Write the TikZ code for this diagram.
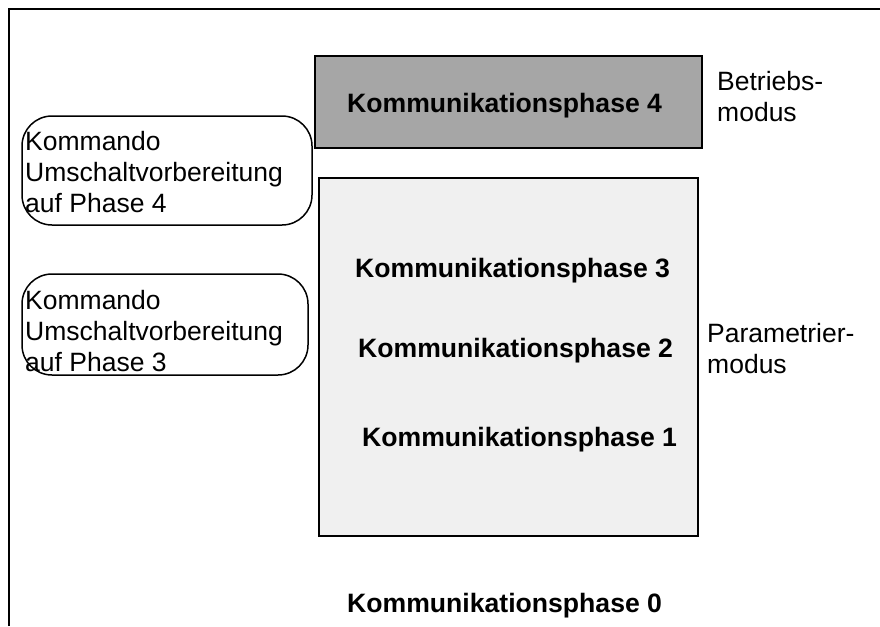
\documentclass[tikz,border=0pt]{standalone}
\usepackage{fontspec}
\setmainfont{Liberation Sans}
\begin{document}
\begin{tikzpicture}[x=1pt,y=-1pt,
  lbl/.style={font=\fontsize{26.5}{31}\selectfont, inner sep=0pt, anchor=base west, align=left},
  phase/.style={font=\fontsize{26.6}{31}\selectfont\bfseries, inner sep=0pt, anchor=base west},
  cmdbox/.style={draw, line width=1.5pt, rounded corners=30pt, inner sep=0pt},
  modebox/.style={draw, line width=2pt, inner sep=0pt}]
\useasboundingbox (0,0) rectangle (880,626);
\fill[white] (0,0) rectangle (880,626);
% open frame: left and top edges
\coordinate (fb) at (9,626);
\coordinate (fc) at (9,9);
\coordinate (fr) at (880,9);
\draw[line width=2.5pt] (fb) -- (fc) -- (fr);
% phase boxes
\node[modebox, fill={rgb,255:red,166;green,166;blue,166}, minimum width=387, minimum height=92] (run) at (508.5,102) {};
\node[modebox, fill={rgb,255:red,240;green,240;blue,240}, minimum width=379, minimum height=358] (param) at (508.5,357) {};
% command boxes
\node[cmdbox, minimum width=290, minimum height=109] (cmd4) at (167,170.5) {};
\node[cmdbox, minimum width=286, minimum height=101] (cmd3) at (165,324.5) {};
% phase labels
\node[phase] (ph4) at (347,112) {Kommunikationsphase 4};
\node[phase] (ph3) at (355,277) {Kommunikationsphase 3};
\node[phase] (ph2) at (358,357) {Kommunikationsphase 2};
\node[phase] (ph1) at (362,446) {Kommunikationsphase 1};
\node[phase] (ph0) at (347,612) {Kommunikationsphase 0};
% command texts (anchored at the baseline of the last line)
\node[lbl] (t4) at (25,212) {Kommando\\Umschaltvorbereitung\\auf Phase 4};
\node[lbl] (t3) at (25,371) {Kommando\\Umschaltvorbereitung\\auf Phase 3};
% mode labels
\node[lbl] (mrun) at (717,121) {Betriebs-\\modus};
\node[lbl] (mpar) at (707,373) {Parametrier-\\modus};
\end{tikzpicture}
\end{document}
